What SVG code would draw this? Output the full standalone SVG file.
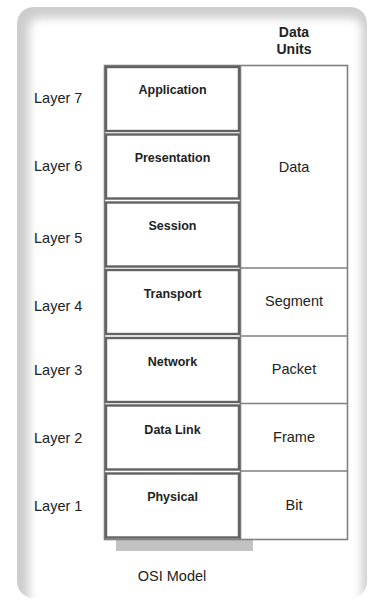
<svg xmlns="http://www.w3.org/2000/svg" width="371" height="602" viewBox="0 0 371 602">
  <defs>
    <filter id="soften" x="-10%" y="-10%" width="120%" height="120%">
      <feGaussianBlur stdDeviation="5"/>
    </filter>
    <clipPath id="cardClip">
      <rect x="17" y="7" width="350" height="591" rx="16"/>
    </clipPath>
  </defs>
  <style>
    .lbl { font-family: "Liberation Sans", Arial, sans-serif; font-size: 14.5px; fill: #222; }
    .ttl { font-family: "Liberation Sans", Arial, sans-serif; font-size: 12.5px; font-weight: bold; fill: #222; text-anchor: middle; }
    .hdr { font-family: "Liberation Sans", Arial, sans-serif; font-size: 14px; font-weight: bold; fill: #222; text-anchor: middle; }
    .mid { text-anchor: middle; }
    .box { fill: #fff; stroke: #626262; stroke-width: 2.4; }
    .grid { fill: none; stroke: #808080; stroke-width: 1.6; }
  </style>

  <!-- card with soft inner edge -->
  <rect width="371" height="602" fill="#fff"/>
  <g clip-path="url(#cardClip)">
    <rect x="17" y="7" width="350" height="591" rx="16" fill="#cdcdcd"/>
    <rect x="29" y="18" width="333" height="590" rx="10" fill="#fff" filter="url(#soften)"/>
  </g>

  <!-- column header -->
  <text class="hdr" x="294" y="36.5">Data</text>
  <text class="hdr" x="294" y="54">Units</text>

  <!-- shadow bar under stack -->
  <rect x="116" y="540" width="137" height="11" fill="#c2c2c2"/>

  <!-- frame and data-unit dividers -->
  <g id="connectors" class="grid">
    <rect x="104.5" y="65.5" width="243" height="474"/>
    <line x1="240.5" y1="65.5" x2="240.5" y2="539.5"/>
    <line x1="240.5" y1="268" x2="347.5" y2="268"/>
    <line x1="240.5" y1="336" x2="347.5" y2="336"/>
    <line x1="240.5" y1="403.5" x2="347.5" y2="403.5"/>
    <line x1="240.5" y1="471" x2="347.5" y2="471"/>
  </g>

  <!-- layers -->
  <g id="layer7">
    <rect class="box" x="106" y="67" width="133" height="64"/>
    <text class="ttl" x="172.5" y="94">Application</text>
    <text class="lbl" x="34" y="103">Layer 7</text>
  </g>
  <g id="layer6">
    <rect class="box" x="106" y="134.5" width="133" height="64"/>
    <text class="ttl" x="172.5" y="162">Presentation</text>
    <text class="lbl" x="34" y="171">Layer 6</text>
  </g>
  <g id="layer5">
    <rect class="box" x="106" y="202.5" width="133" height="64"/>
    <text class="ttl" x="172.5" y="230">Session</text>
    <text class="lbl" x="34" y="243">Layer 5</text>
  </g>
  <g id="layer4">
    <rect class="box" x="106" y="270" width="133" height="64"/>
    <text class="ttl" x="172.5" y="298">Transport</text>
    <text class="lbl" x="34" y="311">Layer 4</text>
  </g>
  <g id="layer3">
    <rect class="box" x="106" y="338" width="133" height="64"/>
    <text class="ttl" x="172.5" y="366">Network</text>
    <text class="lbl" x="34" y="375">Layer 3</text>
  </g>
  <g id="layer2">
    <rect class="box" x="106" y="405.5" width="133" height="64"/>
    <text class="ttl" x="172.5" y="434">Data Link</text>
    <text class="lbl" x="34" y="443">Layer 2</text>
  </g>
  <g id="layer1">
    <rect class="box" x="106" y="473.5" width="133" height="64"/>
    <text class="ttl" x="172.5" y="501">Physical</text>
    <text class="lbl" x="34" y="511">Layer 1</text>
  </g>

  <!-- data units -->
  <g id="unit-data"><text class="lbl mid" x="294" y="171.5">Data</text></g>
  <g id="unit-segment"><text class="lbl mid" x="294" y="306">Segment</text></g>
  <g id="unit-packet"><text class="lbl mid" x="294" y="374">Packet</text></g>
  <g id="unit-frame"><text class="lbl mid" x="294" y="442">Frame</text></g>
  <g id="unit-bit"><text class="lbl mid" x="294" y="510">Bit</text></g>

  <!-- caption -->
  <text class="lbl mid" x="172" y="581">OSI Model</text>
</svg>
